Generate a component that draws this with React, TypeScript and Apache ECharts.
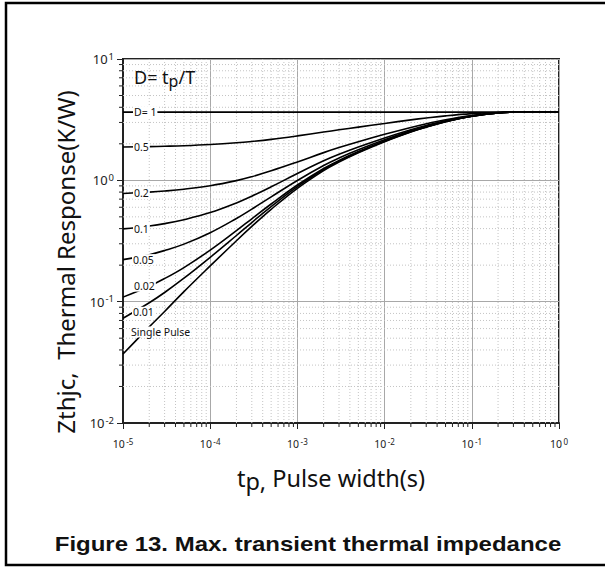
import React, { useEffect, useRef } from "react";
import * as echarts from "echarts";

// Pulse width tp (s)
const pulseWidths = [
  1e-5, 2e-5, 3e-5, 5e-5, 1e-4, 2e-4, 3e-4, 5e-4, 1e-3, 2e-3, 3e-3, 5e-3,
  1e-2, 2e-2, 3e-2, 5e-2, 0.1, 0.2, 0.3, 0.5, 1,
];

// Thermal response Zthjc (K/W)
const zD1 = [3.65, 3.65, 3.65, 3.65, 3.65, 3.65, 3.65, 3.65, 3.65, 3.65, 3.65, 3.65, 3.65, 3.65, 3.65, 3.65, 3.65, 3.65, 3.65, 3.65, 3.65];
const zD05 = [1.88, 1.896, 1.909, 1.93, 1.974, 2.039, 2.092, 2.176, 2.325, 2.5, 2.608, 2.746, 2.945, 3.15, 3.265, 3.4, 3.545, 3.63, 3.648, 3.65, 3.65];
const zD02 = [0.78, 0.8, 0.816, 0.845, 0.903, 0.995, 1.072, 1.197, 1.417, 1.692, 1.861, 2.079, 2.394, 2.73, 2.922, 3.162, 3.426, 3.602, 3.646, 3.65, 3.65];
const zD01 = [0.398, 0.421, 0.44, 0.474, 0.542, 0.651, 0.74, 0.884, 1.138, 1.448, 1.638, 1.882, 2.237, 2.615, 2.831, 3.101, 3.398, 3.596, 3.646, 3.65, 3.65];
const zD005 = [0.222, 0.244, 0.264, 0.298, 0.37, 0.485, 0.579, 0.731, 0.998, 1.325, 1.526, 1.784, 2.159, 2.558, 2.786, 3.071, 3.384, 3.593, 3.645, 3.65, 3.65];
const zD002 = [0.109, 0.134, 0.155, 0.191, 0.266, 0.385, 0.482, 0.638, 0.915, 1.252, 1.459, 1.725, 2.111, 2.523, 2.758, 3.052, 3.376, 3.591, 3.645, 3.65, 3.65];
const zD001 = [0.073, 0.098, 0.119, 0.156, 0.232, 0.351, 0.449, 0.608, 0.887, 1.227, 1.436, 1.706, 2.096, 2.512, 2.75, 3.046, 3.373, 3.591, 3.645, 3.65, 3.65];
const zSingle = [0.037, 0.062, 0.083, 0.121, 0.197, 0.318, 0.417, 0.577, 0.859, 1.203, 1.414, 1.686, 2.08, 2.5, 2.74, 3.04, 3.37, 3.59, 3.645, 3.65, 3.65];

const curveNames = ["D= 1", "0.5", "0.2", "0.1", "0.05", "0.02", "0.01", "Single Pulse"];

// Axis ticks
const xDecades = [1e-5, 1e-4, 1e-3, 1e-2, 1e-1];
const yDecades = [1e-2, 1e-1, 1];
const minorMultipliers = [2, 3, 4, 5, 6, 7, 8, 9];

const FONT = "'Noto Sans', 'Open Sans', sans-serif";

export default function App() {
  const ref = useRef<HTMLDivElement>(null);

  useEffect(() => {
    if (!ref.current) return;
    const chart = echarts.init(ref.current, undefined, { renderer: "svg" });

    const curves = [
      { name: curveNames[0], values: zD1, distance: 10, offset: [0, 0] },
      { name: curveNames[1], values: zD05, distance: 10, offset: [0, 0] },
      { name: curveNames[2], values: zD02, distance: 10, offset: [0, 0] },
      { name: curveNames[3], values: zD01, distance: 10, offset: [0, 0] },
      { name: curveNames[4], values: zD005, distance: 9, offset: [0, 0] },
      { name: curveNames[5], values: zD002, distance: 10, offset: [0, -11] },
      { name: curveNames[6], values: zD001, distance: 9, offset: [0, -6] },
      { name: curveNames[7], values: zSingle, distance: 7, offset: [0, -22] },
    ];

    const xMinor = xDecades.flatMap((d) => minorMultipliers.map((m) => m * d));
    const yMinor = yDecades.flatMap((d) => minorMultipliers.map((m) => m * d));

    const tickFormatter = (v: number) => `{b|10}{s|${Math.round(Math.log10(v))}}`;
    const xTickRich = {
      b: { fontSize: 10.5, fontFamily: FONT, color: "#222", lineHeight: 14 },
      s: { fontSize: 8, fontFamily: FONT, color: "#222", lineHeight: 8, verticalAlign: "top", padding: [0, 0, 0, 1.5] },
    };
    const yTickRich = {
      b: { fontSize: 13, fontFamily: FONT, color: "#222", lineHeight: 16 },
      s: { fontSize: 9.5, fontFamily: FONT, color: "#222", lineHeight: 9, verticalAlign: "top", padding: [0, 0, 0, 1] },
    };

    const lineSeries = curves.map((c) => ({
      type: "line",
      name: c.name,
      data: pulseWidths.map((x, i) =>
        i === 0
          ? {
              value: [x, c.values[i]],
              label: {
                show: true,
                formatter: c.name,
                position: "right",
                distance: c.distance,
                offset: c.offset,
                fontSize: 10.5,
                fontFamily: FONT,
                color: "#111",
                backgroundColor: "#fff",
                padding: [0, 1, 0, 1],
              },
            }
          : [x, c.values[i]]
      ),
      showSymbol: true,
      symbol: "circle",
      symbolSize: 0,
      itemStyle: { color: "#000" },
      lineStyle: { color: "#000", width: 1.6 },
      smooth: 0.4,
      silent: true,
      z: 3,
    }));

    const minorXSeries = {
      type: "custom",
      silent: true,
      z: 1,
      data: xMinor.map((v) => [v, 1]),
      renderItem: (params: any, api: any) => {
        const p = api.coord([api.value(0), 1]);
        const cs = params.coordSys;
        return {
          type: "group",
          children: [
            {
              type: "line",
              shape: { x1: p[0], y1: cs.y, x2: p[0], y2: cs.y + cs.height },
              style: { stroke: "#c4c4c4", lineWidth: 1, lineDash: [1, 2] },
            },
            {
              type: "line",
              shape: { x1: p[0], y1: cs.y + cs.height, x2: p[0], y2: cs.y + cs.height + 4 },
              style: { stroke: "#222", lineWidth: 1 },
            },
          ],
        };
      },
    };

    const minorYSeries = {
      type: "custom",
      silent: true,
      z: 1,
      data: yMinor.map((v) => [1e-3, v]),
      renderItem: (params: any, api: any) => {
        const p = api.coord([1e-3, api.value(1)]);
        const cs = params.coordSys;
        return {
          type: "group",
          children: [
            {
              type: "line",
              shape: { x1: cs.x, y1: p[1], x2: cs.x + cs.width, y2: p[1] },
              style: { stroke: "#c4c4c4", lineWidth: 1, lineDash: [1, 2] },
            },
            {
              type: "line",
              shape: { x1: cs.x - 4, y1: p[1], x2: cs.x, y2: p[1] },
              style: { stroke: "#222", lineWidth: 1 },
            },
          ],
        };
      },
    };

    const option: any = {
      animation: false,
      grid: {
        left: 123,
        right: 46,
        top: 59,
        bottom: 145,
        show: true,
        borderColor: "#222",
        borderWidth: 2,
        backgroundColor: "transparent",
      },
      xAxis: {
        type: "log",
        logBase: 10,
        min: 1e-5,
        max: 1,
        splitNumber: 5,
        name: "{a|t}{p|p,}{a| Pulse width(s)}",
        nameLocation: "middle",
        nameGap: 39,
        nameTextStyle: {
          padding: [0, 20, 0, 0],
          rich: {
            a: { fontSize: 23.5, fontFamily: FONT, color: "#111", lineHeight: 31 },
            p: { fontSize: 23.5, fontFamily: FONT, color: "#111", lineHeight: 23, verticalAlign: "bottom" },
          },
        },
        axisLine: { show: true, lineStyle: { color: "#222", width: 2 } },
        axisTick: { show: true, length: 6, lineStyle: { color: "#222", width: 1 } },
        axisLabel: { formatter: tickFormatter, rich: xTickRich, margin: 14 },
        splitLine: { show: true, lineStyle: { color: "#a8a8a8", width: 1 } },
      },
      yAxis: {
        type: "log",
        logBase: 10,
        min: 0.01,
        max: 10,
        splitNumber: 3,
        name: "Zthjc,  Thermal Response(K/W)",
        nameLocation: "middle",
        nameGap: 46,
        nameRotate: 90,
        nameTextStyle: {
          fontSize: 24,
          fontFamily: FONT,
          color: "#111",
          padding: [0, 42, 0, 0],
        },
        axisLine: { show: true, lineStyle: { color: "#222", width: 2 } },
        axisTick: { show: true, length: 6, lineStyle: { color: "#222", width: 1 } },
        axisLabel: { formatter: tickFormatter, rich: yTickRich, margin: 9 },
        splitLine: { show: true, lineStyle: { color: "#a8a8a8", width: 1 } },
      },
      graphic: [
        {
          type: "rect",
          shape: { x: 6, y: 3, width: 700, height: 562 },
          style: { fill: "none", stroke: "#000", lineWidth: 2.5 },
          silent: true,
        },
        {
          type: "text",
          x: 134,
          y: 77,
          style: {
            text: "{a|D= t}{p|p}{a|/T}",
            rich: {
              a: { fontSize: 18, fontFamily: FONT, fill: "#111", lineHeight: 23 },
              p: { fontSize: 16, fontFamily: FONT, fill: "#111", lineHeight: 16, verticalAlign: "bottom" },
            },
            verticalAlign: "middle",
            align: "left",
          },
          z: 10,
        },
        {
          type: "text",
          x: 308,
          y: 544,
          scaleY: 0.88,
          style: {
            text: "Figure 13. Max. transient thermal impedance",
            fontSize: 24,
            fontWeight: "bold",
            fontFamily: "'Liberation Sans', Arial, sans-serif",
            fill: "#111",
            align: "center",
            verticalAlign: "middle",
          },
        },
      ],
      series: [minorXSeries, minorYSeries, ...lineSeries],
    };

    chart.setOption(option);
    return () => chart.dispose();
  }, []);

  return (
    <div
      ref={ref}
      style={{ position: "fixed", left: 0, top: 0, width: 605, height: 568, background: "#fff" }}
    />
  );
}
